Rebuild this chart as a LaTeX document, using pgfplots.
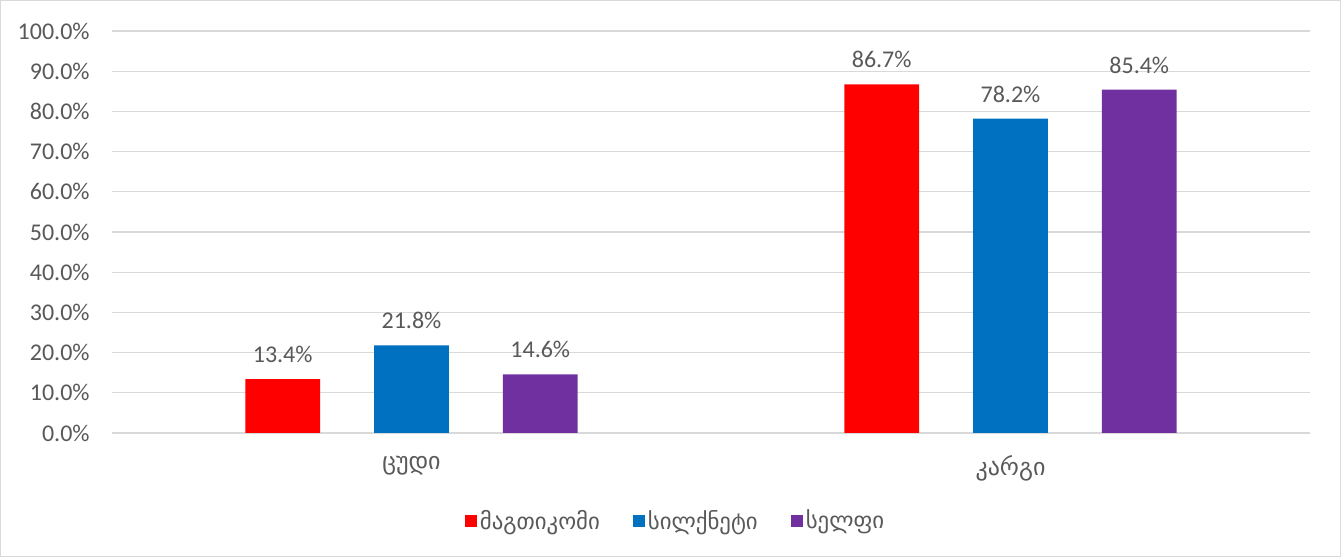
\documentclass[border=0pt]{standalone}
\usepackage{pgfplots}
\pgfplotsset{compat=1.18}
\usepackage{fontspec}
\setmainfont{Carlito}
\newfontfamily\geo{DejaVu Sans}
\definecolor{txt}{HTML}{595959}
\definecolor{gridc}{HTML}{D9D9D9}
\definecolor{cred}{HTML}{FF0000}
\definecolor{cblue}{HTML}{0070C0}
\definecolor{cpurp}{HTML}{7030A0}
\begin{document}
\begin{tikzpicture}
\fill[white] (-56pt,-62pt) rectangle (614.5pt,216.5pt);
\draw[gridc, line width=0.6pt] (-55.7pt,-61.7pt) rectangle (614.2pt,216.2pt);
\begin{axis}[
  at={(0pt,0pt)}, anchor=south west,
  scale only axis, width=599pt, height=201pt,
  xmin=-0.5, xmax=1.5, ymin=0, ymax=100,
  ybar, bar width=0.125,
  xtick={0,1}, xticklabels={{\geo ცუდი},{\geo კარგი}},
  ytick={0,10,...,100},
  yticklabel={\pgfmathprintnumber[fixed,fixed zerofill,precision=1]{\tick}\%},
  /pgf/number format/assume math mode=true,
  major tick length=0pt,
  ymajorgrids, grid style={gridc, line width=0.6pt},
  axis line style={draw=none},
  tick label style={font=\fontsize{12}{14}\selectfont, text=txt},
  yticklabel style={inner sep=0pt, xshift=-11pt},
  xticklabel style={inner sep=0pt, yshift=-11pt},
  nodes near coords={\pgfmathprintnumber[fixed,fixed zerofill,precision=1]{\pgfplotspointmeta}\%},
  every node near coord/.append style={font=\fontsize{12}{14}\selectfont, text=txt, anchor=south, inner sep=0pt, yshift=8pt},
  legend style={draw=none, fill=none, at={(0.4708,-0.219)}, anchor=center,
    legend columns=-1, font=\geo\fontsize{11.4}{13}\selectfont, text=txt,
    /tikz/every even column/.append style={column sep=15pt},
    nodes={inner sep=1.5pt}},
  legend image code/.code={\fill[#1] (0pt,-3pt) rectangle (6pt,3pt);},
]
\addplot[fill=cred, draw=none, bar shift=-0.215] coordinates {(0,13.4) (1,86.7)};
\addplot[fill=cblue, draw=none, bar shift=0] coordinates {(0,21.8) (1,78.2)};
\addplot[fill=cpurp, draw=none, bar shift=0.215] coordinates {(0,14.6) (1,85.4)};
\legend{მაგთიკომი, სილქნეტი, სელფი}
\end{axis}
\end{tikzpicture}
\end{document}
